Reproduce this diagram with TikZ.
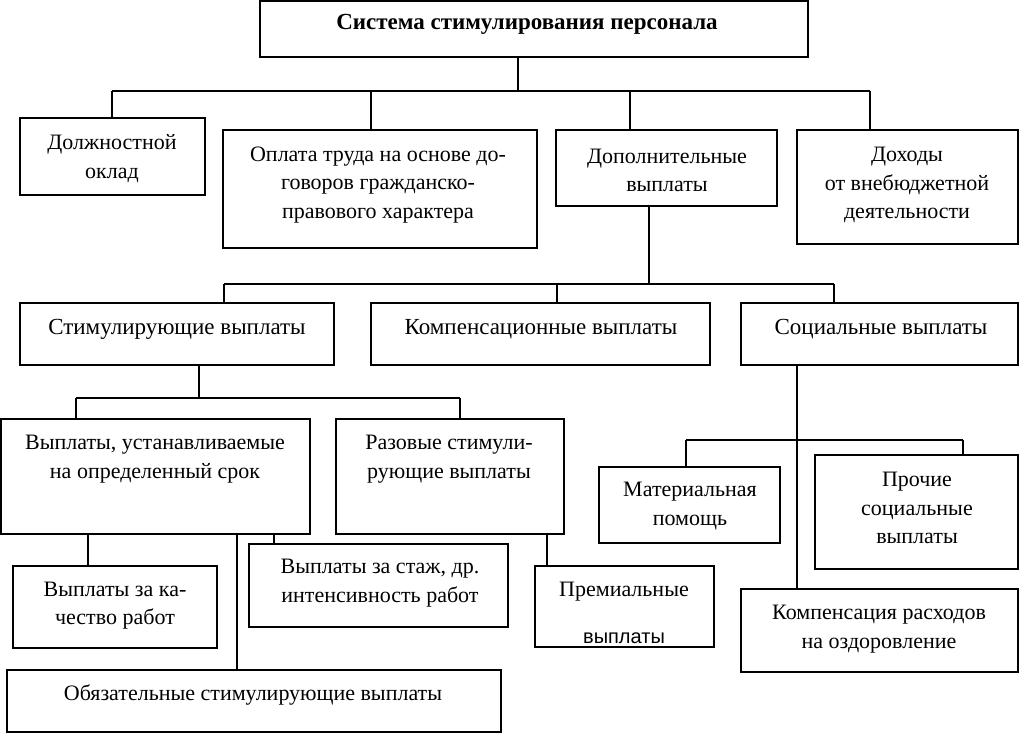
\documentclass[tikz,border=0pt]{standalone}
\usepackage{fontspec}
\setmainfont{Liberation Serif}
\setsansfont{Liberation Sans}
\usetikzlibrary{positioning}

\begin{document}
\begin{tikzpicture}[x=1pt,y=-1pt,line width=2pt,
  box/.style={draw,anchor=north west,inner sep=0pt,outer sep=0pt},
  txt/.style={align=center,inner sep=0pt,yshift=-3pt,font=\fontsize{22}{28.5}\selectfont},
  wide/.style={txt,font=\fontsize{23}{28.5}\selectfont}]
\useasboundingbox (0,0) rectangle (1020,733);

% boxes
\node[box,minimum width=548pt,minimum height=56pt] (sys) at (260,1) {};
\node[box,minimum width=185pt,minimum height=77pt] (okl) at (20,118) {};
\node[box,minimum width=314pt,minimum height=118pt] (opl) at (223,130) {};
\node[box,minimum width=221pt,minimum height=76pt] (dop) at (556,130) {};
\node[box,minimum width=221pt,minimum height=114pt] (dox) at (797,130) {};

\node[box,minimum width=314pt,minimum height=62pt] (stim) at (20,303) {};
\node[box,minimum width=339pt,minimum height=62pt] (komp) at (371,303) {};
\node[box,minimum width=277pt,minimum height=62pt] (soc) at (741,303) {};

\node[box,minimum width=309pt,minimum height=115pt] (srok) at (1,419) {};
\node[box,minimum width=228pt,minimum height=115pt] (raz) at (336,419) {};
\node[box,minimum width=204pt,minimum height=82pt] (kach) at (13,566) {};
\node[box,minimum width=259pt,minimum height=83pt] (stazh) at (249,544) {};
\node[box,minimum width=494pt,minimum height=62pt] (obyaz) at (7,670) {};
\node[box,minimum width=179pt,minimum height=81pt] (prem) at (535,566) {};

\node[box,minimum width=181pt,minimum height=76pt] (mat) at (599,467) {};
\node[box,minimum width=203pt,minimum height=114pt] (proch) at (815,455) {};
\node[box,minimum width=277pt,minimum height=83pt] (ozdr) at (741,589) {};

% texts
\node[txt,font=\fontsize{23}{28.5}\selectfont\bfseries] (t-sys) at (527,21) {Система стимулирования персонала};
\node[txt] (t-okl) at (112,155.5) {Должностной\\оклад};
\node[txt] (t-opl) at (378,182) {Оплата труда на основе до-\\говоров гражданско-\\правового характера};
\node[txt] (t-dop) at (667,167.5) {Дополнительные\\выплаты};
\node[txt] (t-dox) at (907,182) {Доходы\\от внебюджетной\\деятельности};

\node[wide] (t-stim) at (177,326) {Стимулирующие выплаты};
\node[wide] (t-komp) at (541,326) {Компенсационные выплаты};
\node[wide] (t-soc) at (881,326) {Социальные выплаты};

\node[txt] (t-srok) at (155,456) {Выплаты, устанавливаемые\\на определенный срок};
\node[txt] (t-raz) at (449,456) {Разовые стимули-\\рующие выплаты};
\node[txt] (t-kach) at (115,602.5) {Выплаты за ка-\\чество работ};
\node[txt] (t-stazh) at (380,580) {Выплаты за стаж, др.\\интенсивность работ};
\node[txt] (t-obyaz) at (253,692) {Обязательные стимулирующие выплаты};
\node[txt] (t-prem) at (624,610) {Премиальные\\[18pt]{\sffamily\fontsize{20}{24}\selectfont выплаты}};

\node[txt] (t-mat) at (690,503) {Материальная\\помощь};
\node[txt] (t-proch) at (917,505) {Прочие\\социальные\\выплаты};
\node[txt] (t-ozdr) at (879,626) {Компенсация расходов\\на оздоровление};

% junctions
\coordinate (j0) at (518,91);
\coordinate (j1a) at (112,91);
\coordinate (j1b) at (371,91);
\coordinate (j1c) at (630,91);
\coordinate (j1d) at (870,91);

\coordinate (j2) at (649,284);
\coordinate (j2a) at (224,284);
\coordinate (j2b) at (557,284);
\coordinate (j2c) at (834,284);

\coordinate (j3) at (199,398);
\coordinate (j3a) at (76,398);
\coordinate (j3b) at (460,398);

\coordinate (j4) at (797,440);
\coordinate (j4a) at (686,440);
\coordinate (j4b) at (963,440);

% first level
\draw (j0 |- sys.south) -- (j0);
\draw (j1a) -- (j1d);
\draw (j1a) -- (j1a |- okl.north);
\draw (j1b) -- (j1b |- opl.north);
\draw (j1c) -- (j1c |- dop.north);
\draw (j1d) -- (j1d |- dox.north);

% additional payments
\draw (j2 |- dop.south) -- (j2);
\draw (j2a) -- (j2c);
\draw (j2a) -- (j2a |- stim.north);
\draw (j2b) -- (j2b |- komp.north);
\draw (j2c) -- (j2c |- soc.north);

% stimulating payments
\draw (j3 |- stim.south) -- (j3);
\draw (j3a) -- (j3b);
\draw (j3a) -- (j3a |- srok.north);
\draw (j3b) -- (j3b |- raz.north);
\draw ([xshift=-27pt]kach.north |- srok.south) -- ([xshift=-27pt]kach.north);
\draw ([xshift=-104.5pt]stazh.north |- srok.south) -- ([xshift=-104.5pt]stazh.north);
\draw ([xshift=-17pt]obyaz.north |- srok.south) -- ([xshift=-17pt]obyaz.north);
\draw ([xshift=-77.5pt]prem.north |- raz.south) -- ([xshift=-77.5pt]prem.north);

% social payments
\draw (j4 |- soc.south) -- (j4 |- ozdr.north);
\draw (j4a) -- (j4b);
\draw (j4a) -- (j4a |- mat.north);
\draw (j4b) -- (j4b |- proch.north);
\end{tikzpicture}
\end{document}
